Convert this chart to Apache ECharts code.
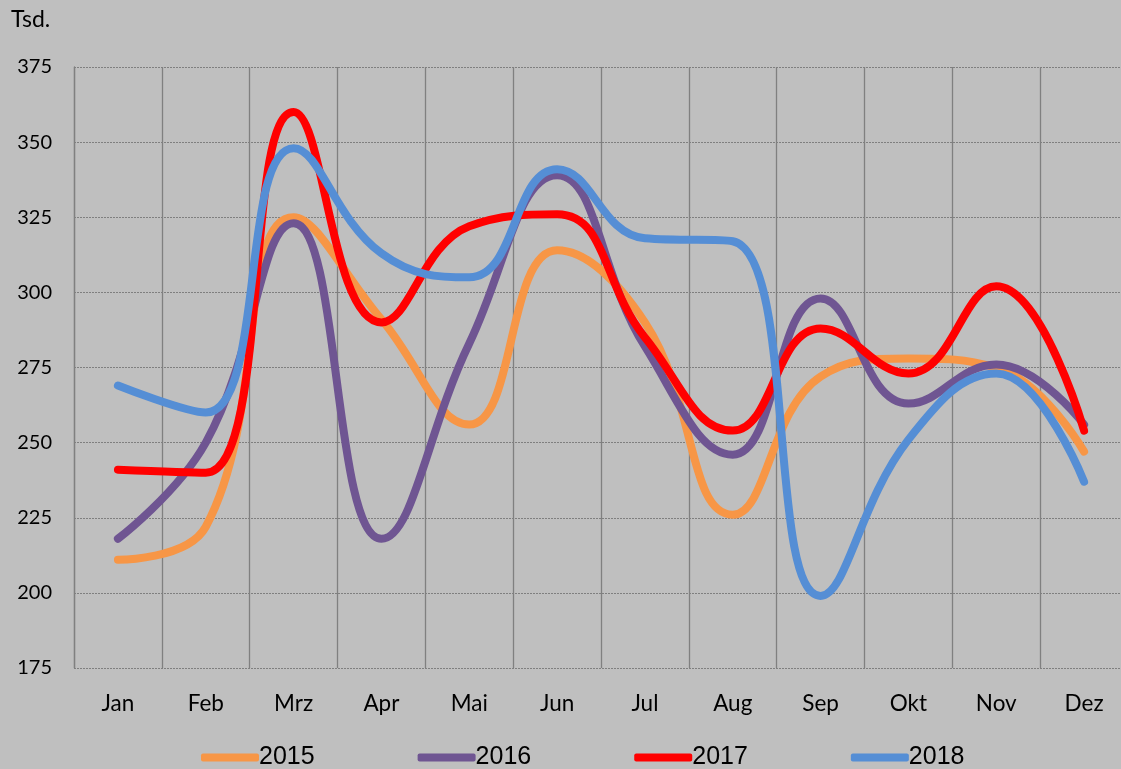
<!DOCTYPE html>
<html>
<head>
<meta charset="utf-8">
<script src="https://cdn.jsdelivr.net/npm/echarts@6/dist/echarts.min.js"></script>
<style>html,body{margin:0;padding:0;background:#bfbfbf;}#c{width:1121px;height:769px;}</style>
</head>
<body>
<div id="c"></div>
<script>
const categories = ['Jan','Feb','Mrz','Apr','Mai','Jun','Jul','Aug','Sep','Okt','Nov','Dez'];
const yTicks = [175, 200, 225, 250, 275, 300, 325, 350, 375];
const s2015 = [211, 222, 325, 291, 256, 314, 290, 226, 272, 278, 275, 247];
const s2016 = [218, 250, 323, 218, 283, 339, 282, 246, 298, 263, 276, 256];
const s2017 = [241, 240, 360, 290, 322, 326, 285, 254, 288, 273, 302, 254];
const s2018 = [269, 260, 348, 313, 305, 341, 318, 317, 199, 251, 273, 237];
const seriesNames = ['2015','2016','2017','2018'];
const colors = ['#F79646','#6F5592','#FF0000','#558ED5'];
const allData = [s2015, s2016, s2017, s2018];

const chart = echarts.init(document.getElementById('c'));
chart.setOption({
  backgroundColor: '#bfbfbf',
  animation: false,
  color: colors,
  graphic: [{
    type: 'text', left: 11, top: 8,
    style: { text: 'Tsd.', font: '23px Lato', fill: '#000' }
  }],
  legend: {
    bottom: -6, left: 196,
    itemWidth: 58, itemHeight: 8, itemGap: 103,
    icon: 'roundRect',
    textStyle: { fontFamily: 'Liberation Sans', fontSize: 25, color: '#000', padding: [0,0,0,-5] },
    data: seriesNames
  },
  grid: { left: 74, top: 67, width: 1054, height: 601, containLabel: false, outerBoundsMode: 'none' },
  xAxis: {
    type: 'category', data: categories, boundaryGap: true,
    axisLine: { show: false },
    axisTick: { show: false },
    axisLabel: { fontFamily: 'Lato', fontSize: 22.5, color: '#000', margin: 24 },
    splitLine: { show: true, interval: 0, lineStyle: { color: '#808080', width: 1.3, type: 'solid' } }
  },
  yAxis: {
    type: 'value', min: 175, max: 375, interval: 25,
    axisLine: { show: true, lineStyle: { color: '#808080', width: 1.3 } },
    axisTick: { show: false },
    axisLabel: { fontFamily: 'Lato', fontSize: 20, color: '#000', margin: 22,
      formatter: v => yTicks.includes(v) ? String(v) : '' },
    splitLine: { show: true, lineStyle: { color: '#7f7f7f', width: 1, type: [2, 1] } }
  },
  series: allData.map((d, i) => ({
    name: seriesNames[i], type: 'line', data: d, smooth: 0.45,
    symbol: 'none', z: 2 + i,
    lineStyle: { width: 8, color: colors[i], cap: 'round', join: 'round' },
    itemStyle: { color: colors[i] }
  }))
});
</script>
</body>
</html>
